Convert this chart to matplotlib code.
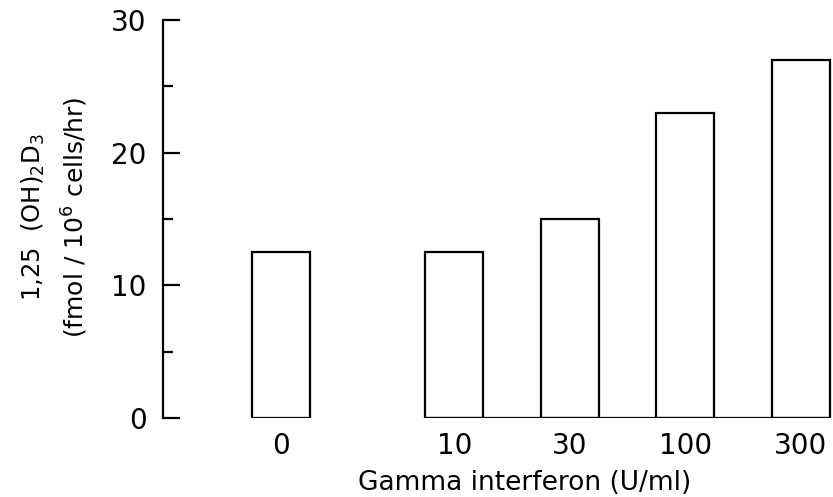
import matplotlib.pyplot as plt
import numpy as np

# Dosis de interferón gamma y producción de 1,25(OH)2D3
dosis = ['0', '10', '30', '100', '300']
posiciones = [0, 1.5, 2.5, 3.5, 4.5]
produccion = [12.5, 12.5, 15, 23, 27]
ancho = 0.5

fig = plt.figure(figsize=(8.33, 4.97), dpi=100)
ax = fig.add_axes([0.196, 0.159, 0.804, 0.801])

ax.bar(posiciones, produccion, width=ancho, color='white', edgecolor='black', linewidth=1.6)
# línea de base común para las dosis > 0
ax.hlines(0, posiciones[1] - ancho / 2, posiciones[-1] + ancho / 2, color='black', linewidth=1.6)

ax.set_xlim(-1.02, 4.78)
ax.set_ylim(0, 30)
ax.set_xticks(posiciones)
ax.set_xticklabels(dosis)
ax.set_yticks([0, 10, 20, 30])
ax.set_yticks([5, 15, 25], minor=True)

for lado in ['top', 'right', 'bottom']:
    ax.spines[lado].set_visible(False)
ax.spines['left'].set_linewidth(1.6)

ax.tick_params(axis='y', which='major', direction='in', length=12, width=1.6,
               pad=12, labelsize=20)
ax.tick_params(axis='y', which='minor', direction='in', length=7, width=1.6)
ax.tick_params(axis='x', length=0, pad=10, labelsize=20)

ax.set_xlabel('Gamma interferon (U/ml)', fontsize=19)
ax.xaxis.set_label_coords(0.540, -0.13)

fig.text(0.040, 0.563, r'1,25  (OH)$_2$D$_3$', rotation=90, ha='center', va='center', fontsize=17.5)
fig.text(0.090, 0.563, r'(fmol / 10$^6$ cells/hr)', rotation=90, ha='center', va='center', fontsize=18)

plt.savefig('out.png')
